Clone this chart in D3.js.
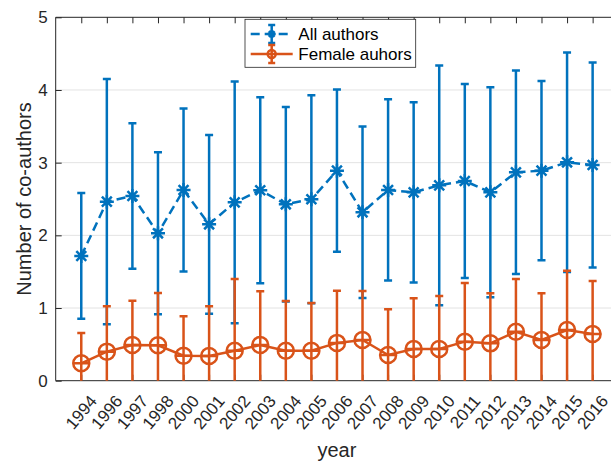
<!DOCTYPE html>
<html>
<head>
<meta charset="utf-8">
<script src="https://cdn.jsdelivr.net/npm/d3@7"></script>
<style>
  body { margin: 0; background: #fff; }
  svg { display: block; font-family: "Liberation Sans", Arial, sans-serif; }
</style>
</head>
<body>
<svg id="chart" width="611" height="461"></svg>
<script>
// categories (years) - note 1995 and 1999 are missing
const years = ["1994", "1996", "1997", "1998", "2000", "2001", "2002", "2003", "2004", "2005",
               "2006", "2007", "2008", "2009", "2010", "2011", "2012", "2013", "2014", "2015", "2016"];

// all authors: mean and +/- error
const allMean = [1.716, 2.463, 2.541, 2.028, 2.624, 2.152, 2.454, 2.62, 2.427, 2.496,
                 2.89, 2.317, 2.624, 2.592, 2.688, 2.748, 2.592, 2.867, 2.89, 3.005, 2.968];
const allErr = [0.865, 1.688, 1.0, 1.115, 1.12, 1.23, 1.663, 1.28, 1.339, 1.431,
                1.115, 1.18, 1.247, 1.24, 1.65, 1.335, 1.445, 1.40, 1.232, 1.51, 1.41];

// female authors: mean and +/- error
const femMean = [0.239, 0.40, 0.491, 0.487, 0.344, 0.34, 0.413, 0.491, 0.413, 0.413,
                 0.52, 0.56, 0.354, 0.436, 0.436, 0.537, 0.514, 0.674, 0.56, 0.697, 0.642];
const femErr = [0.417, 0.624, 0.609, 0.72, 0.542, 0.684, 0.986, 0.739, 0.684, 0.656,
                0.718, 0.674, 0.628, 0.697, 0.729, 0.807, 0.688, 0.725, 0.642, 0.816, 0.73];

const yTicks = [0, 1, 2, 3, 4, 5];
const seriesNames = ["All authors", "Female auhors"];

const blue = "#0072BD", orange = "#D95319", axisColor = "#262626";
const fontFamily = "Liberation Sans, Arial, sans-serif";

let svg = d3.select("#chart");

let axLeft = 55.7, axRight = 618.2, axTop = 17.3, axBottom = 380.7;

let xScale = d3.scalePoint().domain(years).range([axLeft, axRight]).padding(1);
let yScale = d3.scaleLinear().domain([0, 5]).range([axBottom, axTop]);

// grid
svg.append("g")
    .selectAll("line")
    .data(yTicks.slice(1, -1))
    .enter().append("line")
    .attr("x1", axLeft).attr("x2", axRight)
    .attr("y1", d => yScale(d)).attr("y2", d => yScale(d))
    .attr("stroke", "#e3e3e3").attr("stroke-width", 1);

// axes (box with inward ticks)
let gY = svg.append("g").attr("transform", "translate(" + axLeft + ",0)")
    .call(d3.axisLeft(yScale).tickValues(yTicks).tickFormat(d3.format("d")).tickSize(-6).tickPadding(8));
let gTop = svg.append("g").attr("transform", "translate(0," + axTop + ")")
    .call(d3.axisTop(xScale).tickSize(-6).tickFormat(""));
let gX = svg.append("g").attr("transform", "translate(0," + axBottom + ")")
    .call(d3.axisBottom(xScale).tickSize(-6).tickPadding(8));

[gY, gTop, gX].forEach(g => {
    g.attr("font-family", fontFamily).attr("font-size", 17);
    g.select(".domain").attr("stroke", axisColor).attr("stroke-width", 1);
    g.selectAll(".tick line").attr("stroke", axisColor);
    g.selectAll("text").attr("fill", axisColor);
});
gTop.select(".domain").attr("d", "M" + axLeft + ",0H" + axRight);
gY.select(".domain").attr("d", "M0," + axBottom + "V" + axTop);
gX.select(".domain").attr("d", "M" + axLeft + ",0H" + axRight);

// rotated year labels
gX.selectAll("text")
    .attr("y", 0).attr("x", 0).attr("dy", "0.35em")
    .attr("transform", "translate(11.5,17) rotate(-50)")
    .style("text-anchor", "end");

// axis labels
svg.append("text")
    .attr("x", (axLeft + axRight) / 2).attr("y", 457)
    .attr("text-anchor", "middle")
    .attr("fill", axisColor).style("font-size", "20px")
    .text("year");
svg.append("text")
    .attr("transform", "translate(31," + (axTop + axBottom) / 2 + ") rotate(-90)")
    .attr("text-anchor", "middle")
    .attr("fill", axisColor).style("font-size", "20px")
    .text("Number of co-authors");

// data area
svg.append("clipPath").attr("id", "plotClip")
    .append("rect").attr("x", axLeft).attr("y", axTop)
    .attr("width", axRight - axLeft).attr("height", axBottom - axTop);

let plot = svg.append("g").attr("clip-path", "url(#plotClip)");

function drawErrorBars(g, means, errs, color) {
    let rows = years.map((y, i) => ({ year: y, m: means[i], e: errs[i] }));
    let eb = g.append("g").attr("stroke", color).attr("stroke-width", 2.5).attr("fill", "none");
    eb.selectAll("line.bar").data(rows).enter().append("line")
        .attr("x1", d => xScale(d.year)).attr("x2", d => xScale(d.year))
        .attr("y1", d => yScale(d.m - d.e)).attr("y2", d => yScale(d.m + d.e));
    eb.selectAll("line.capHi").data(rows).enter().append("line")
        .attr("x1", d => xScale(d.year) - 4).attr("x2", d => xScale(d.year) + 4)
        .attr("y1", d => yScale(d.m + d.e)).attr("y2", d => yScale(d.m + d.e));
    eb.selectAll("line.capLo").data(rows).enter().append("line")
        .attr("x1", d => xScale(d.year) - 4).attr("x2", d => xScale(d.year) + 4)
        .attr("y1", d => yScale(d.m - d.e)).attr("y2", d => yScale(d.m - d.e));
    return rows;
}

function asteriskPath(x, y, s) {
    let d = s * 0.7071;
    return "M" + (x - s) + "," + y + "H" + (x + s) +
        "M" + x + "," + (y - s) + "V" + (y + s) +
        "M" + (x - d) + "," + (y - d) + "L" + (x + d) + "," + (y + d) +
        "M" + (x - d) + "," + (y + d) + "L" + (x + d) + "," + (y - d);
}

let line = d3.line().x(d => xScale(d.year)).y(d => yScale(d.m));

// all authors
let allRows = drawErrorBars(plot, allMean, allErr, blue);
plot.append("path").datum(allRows)
    .attr("d", line).attr("fill", "none")
    .attr("stroke", blue).attr("stroke-width", 2.5).attr("stroke-dasharray", "9,5");
plot.append("g").selectAll("path").data(allRows).enter().append("path")
    .attr("d", d => asteriskPath(xScale(d.year), yScale(d.m), 7))
    .attr("stroke", blue).attr("stroke-width", 2.5).attr("fill", "none");

// female authors
let femRows = drawErrorBars(plot, femMean, femErr, orange);
plot.append("path").datum(femRows)
    .attr("d", line).attr("fill", "none")
    .attr("stroke", orange).attr("stroke-width", 2.5);
let marks = plot.append("g").attr("stroke", orange).attr("stroke-width", 2.5).attr("fill", "none");
marks.selectAll("circle").data(femRows).enter().append("circle")
    .attr("cx", d => xScale(d.year)).attr("cy", d => yScale(d.m)).attr("r", 8);
marks.selectAll("line").data(femRows).enter().append("line")
    .attr("x1", d => xScale(d.year) - 8).attr("x2", d => xScale(d.year) + 8)
    .attr("y1", d => yScale(d.m)).attr("y2", d => yScale(d.m));

// legend
let legend = svg.append("g");
legend.append("rect")
    .attr("x", 245).attr("y", 19.3).attr("width", 170.7).attr("height", 48)
    .attr("fill", "#fff").attr("stroke", axisColor).attr("stroke-width", 0.8);

let legendItems = seriesNames.map((n, i) => ({ name: n, color: i === 0 ? blue : orange, dashed: i === 0, y: 34 + i * 20 }));
let item = legend.selectAll("g.item").data(legendItems).enter().append("g")
    .attr("stroke-width", 2.5);
item.append("line")
    .attr("x1", 250.7).attr("x2", 292.7).attr("y1", d => d.y).attr("y2", d => d.y)
    .attr("stroke", d => d.color).attr("stroke-dasharray", d => d.dashed ? "9,5" : null);
item.append("path")
    .attr("d", d => "M271.7," + (d.y - 9) + "V" + (d.y + 9) +
        "M268.2," + (d.y - 9) + "H275.2M268.2," + (d.y + 9) + "H275.2")
    .attr("stroke", d => d.color).attr("fill", "none");
item.filter((d, i) => i === 0).append("path")
    .attr("d", d => asteriskPath(271.7, d.y, 4))
    .attr("stroke", d => d.color).attr("fill", "none");
item.filter((d, i) => i === 1).append("circle")
    .attr("cx", 271.7).attr("cy", d => d.y).attr("r", 4)
    .attr("stroke", d => d.color).attr("fill", "none");
item.append("text")
    .attr("x", 298.3).attr("y", d => d.y).attr("dy", "0.35em")
    .attr("fill", "#000").attr("stroke", "none").style("font-size", "17px")
    .text(d => d.name);
</script>
</body>
</html>
